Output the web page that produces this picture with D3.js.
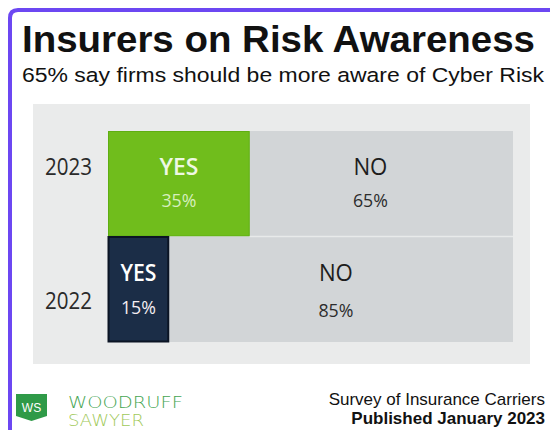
<!DOCTYPE html>
<html><head><meta charset="utf-8">
<script src="https://cdn.jsdelivr.net/npm/d3@7"></script>
<style>body{margin:0;background:#fff}svg{display:block}</style>
</head><body>
<script>
const years = ["2023", "2022"];
const yesValues = [35, 15];
const noValues = [65, 85];
const yesLabels = ["YES", "YES"];
const noLabels = ["NO", "NO"];
const title = "Insurers on Risk Awareness";
const subtitle = "65% say firms should be more aware of Cyber Risk";
const brandLines = ["WOODRUFF", "SAWYER"];
const sourceLines = ["Survey of Insurance Carriers", "Published January 2023"];

const W = 550, H = 430;
const svg = d3.select("body").append("svg").attr("width", W).attr("height", H);
const sans = "Liberation Sans, Arial, sans-serif";
const font = "Open Sans, Noto Sans, sans-serif";

// purple frame (top + left)
svg.append("path").attr("d", "M10,430 L10,18 Q10,10 18,10 L550,10")
  .attr("fill", "none").attr("stroke", "#6c47f2").attr("stroke-width", 4);

svg.append("text").attr("x", 22).attr("y", 52).text(title)
  .attr("font-family", sans).attr("font-weight", "bold")
  .attr("font-size", 37).attr("fill", "#111")
  .attr("textLength", 513).attr("lengthAdjust", "spacingAndGlyphs");
svg.append("text").attr("x", 22).attr("y", 82).text(subtitle)
  .attr("font-family", sans)
  .attr("font-size", 20.5).attr("fill", "#111")
  .attr("textLength", 522).attr("lengthAdjust", "spacingAndGlyphs");

// panel
svg.append("rect").attr("x", 33).attr("y", 104).attr("width", 497).attr("height", 260)
  .attr("fill", "#eaebeb");

const x = d3.scaleLinear().domain([0, 100]).range([108, 513]);
const y = d3.scaleBand().domain(years).range([131, 342]).paddingInner(0);

const rows = svg.selectAll("g.row").data(years).join("g").attr("class", "row");

// no segments
rows.append("rect")
  .attr("x", (d, i) => x(yesValues[i]))
  .attr("y", d => y(d))
  .attr("width", (d, i) => x(yesValues[i] + noValues[i]) - x(yesValues[i]))
  .attr("height", y.bandwidth())
  .attr("fill", "#d2d5d7");
// yes segments
const yesFill = ["#70bd1c", "#1b2d47"];
const yesStroke = ["#5fae12", "#0b1424"];
rows.append("rect")
  .attr("x", x(0) + 0.5)
  .attr("y", d => y(d) + 0.5)
  .attr("width", (d, i) => x(yesValues[i]) - x(0) - 1)
  .attr("height", y.bandwidth() - 1)
  .attr("fill", (d, i) => yesFill[i])
  .attr("stroke", (d, i) => yesStroke[i]).attr("stroke-width", (d, i) => i ? 2 : 1);
// separator line
svg.append("line").attr("x1", x(yesValues[0])).attr("x2", x(100))
  .attr("y1", y(years[1])).attr("y2", y(years[1]))
  .attr("stroke", "#e8eaea").attr("stroke-width", 1.5);

// year labels
const yearY = [44, 72];
rows.append("text").attr("x", 92).attr("y", (d, i) => y(d) + yearY[i])
  .attr("text-anchor", "end").text(d => d)
  .attr("font-family", font).attr("font-size", 23).attr("fill", "#2a2a2a")
  .attr("textLength", 47).attr("lengthAdjust", "spacingAndGlyphs");

// yes labels
const yesText = ["#eef8e4", "#ffffff"];
const yesPct = ["#d6efbd", "#f5eef2"];
const yesTitleY = [44, 44];
const yesPctY = [76, 77];
rows.append("text")
  .attr("x", (d, i) => (x(0) + x(yesValues[i])) / 2)
  .attr("y", (d, i) => y(d) + yesTitleY[i])
  .attr("text-anchor", "middle").text((d, i) => yesLabels[i])
  .attr("font-family", font).attr("font-size", 23).attr("font-weight", 600)
  .attr("fill", (d, i) => yesText[i])
  .attr("textLength", (d, i) => i ? 36 : 39).attr("lengthAdjust", "spacingAndGlyphs");
rows.append("text")
  .attr("x", (d, i) => (x(0) + x(yesValues[i])) / 2)
  .attr("y", (d, i) => y(d) + yesPctY[i])
  .attr("text-anchor", "middle").text((d, i) => yesValues[i] + "%")
  .attr("font-family", font).attr("font-size", 19)
  .attr("fill", (d, i) => yesPct[i])
  .attr("textLength", 35).attr("lengthAdjust", "spacingAndGlyphs");

// no labels
const noDx = [-11, -5];
const noTitleY = [44, 44];
const noPctY = [76, 80];
rows.append("text")
  .attr("x", (d, i) => (x(yesValues[i]) + x(100)) / 2 + noDx[i])
  .attr("y", (d, i) => y(d) + noTitleY[i])
  .attr("text-anchor", "middle").text((d, i) => noLabels[i])
  .attr("font-family", font).attr("font-size", 24)
  .attr("fill", "#1d1d1d")
  .attr("textLength", 34).attr("lengthAdjust", "spacingAndGlyphs");
rows.append("text")
  .attr("x", (d, i) => (x(yesValues[i]) + x(100)) / 2 + noDx[i])
  .attr("y", (d, i) => y(d) + noPctY[i])
  .attr("text-anchor", "middle").text((d, i) => noValues[i] + "%")
  .attr("font-family", font).attr("font-size", 19)
  .attr("fill", "#2c2c2c")
  .attr("textLength", 35).attr("lengthAdjust", "spacingAndGlyphs");

// logo
svg.append("path").attr("d", "M16,394 L47,394 L47,416 L31.5,421 L16,416 Z").attr("fill", "#2f9a48");
svg.append("text").attr("x", 31.5).attr("y", 412).attr("text-anchor", "middle").text("WS")
  .attr("font-family", sans).attr("font-size", 12).attr("fill", "#fff");
const brandFill = ["#45a552", "#9fc95a"];
const brandY = [408, 426];
const brandLen = [115, 76];
brandLines.forEach((t, i) => {
  svg.append("text").attr("x", 68).attr("y", brandY[i]).text(t)
    .attr("font-family", "DejaVu Sans, sans-serif").attr("font-size", 15).attr("font-weight", 200)
    .attr("fill", brandFill[i])
    .attr("textLength", brandLen[i]).attr("lengthAdjust", "spacingAndGlyphs");
});

sourceLines.forEach((t, i) => {
  svg.append("text").attr("text-anchor", "end")
    .attr("x", 545).attr("y", i ? 424 : 405).text(t)
    .attr("font-family", sans).attr("font-size", 17).attr("fill", "#111")
    .attr("font-weight", i ? "bold" : "normal");
});
</script>
</body></html>
